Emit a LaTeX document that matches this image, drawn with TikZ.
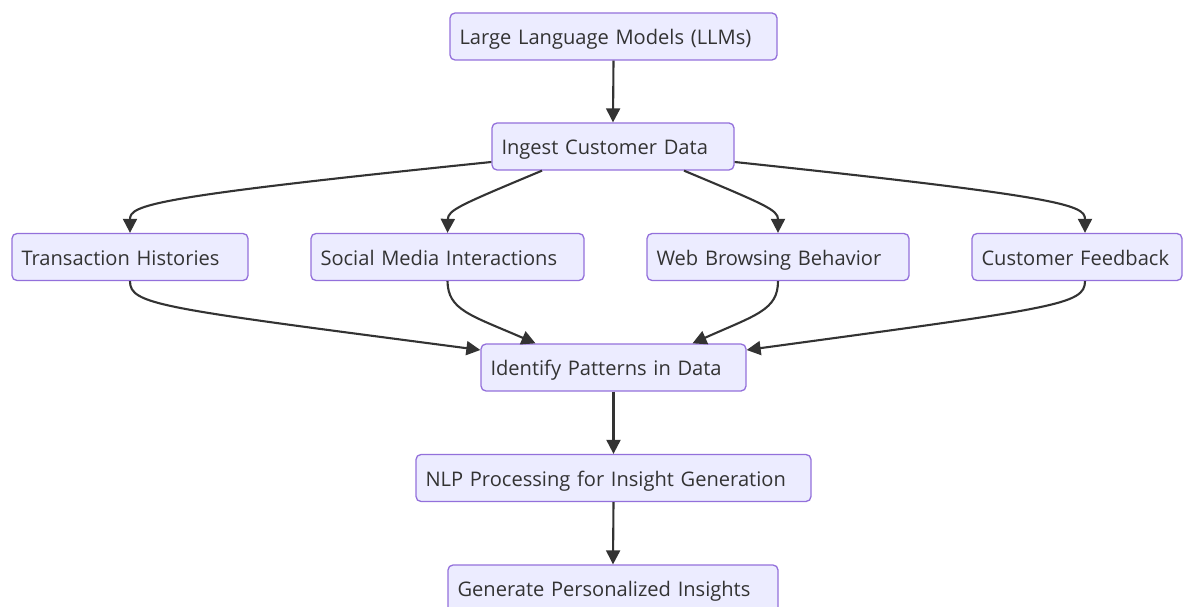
\documentclass[tikz,border=0pt]{standalone}
\usepackage{fontspec}
\setmainfont{Open Sans}
\usetikzlibrary{arrows.meta,calc}
\definecolor{boxfill}{HTML}{ECECFF}
\definecolor{boxline}{HTML}{9370DB}
\definecolor{ink}{HTML}{333333}
\tikzset{
  box/.style={draw=boxline, fill=boxfill, line width=1.3pt, rounded corners=5pt,
    minimum height=47pt, inner xsep=9.5pt, inner ysep=0pt, align=left,
    text height=18pt, text depth=2pt,
    text=ink, font=\fontsize{20.1}{24}\selectfont, anchor=center},
  conn/.style={draw=ink, line width=2.1pt, -{Triangle[length=14pt,width=14pt]}},
}
\begin{document}
\begin{tikzpicture}[x=1pt,y=-1pt]
\useasboundingbox (0,0) rectangle (1184,607);
\node[box, text width=308pt] (llm) at (613.5,36.5) {Large Language Models (LLMs)};
\node[box, text width=223pt] (ingest) at (613,146.5) {Ingest Customer Data};
\node[box, text width=217pt] (trans) at (130,257) {Transaction Histories};
\node[box, text width=254pt] (social) at (447.5,257) {Social Media Interactions};
\node[box, text width=243pt] (web) at (778,257) {Web Browsing Behavior};
\node[box, text width=191pt] (fb) at (1077,257) {Customer Feedback};
\node[box, text width=246pt] (ident) at (613.5,367.5) {Identify Patterns in Data};
\node[box, text width=376pt] (nlp) at (613.5,478) {NLP Processing for Insight Generation};
\node[box, text width=311pt] (gen) at (613,588.5) {Generate Personalized Insights};

\draw[conn] (llm.south) -- (ingest.north);
\draw[conn] ($(ingest.west)+(0,15.5)$) .. controls (150,197) and (130,205) .. (trans.north);
\draw[conn] ($(ingest.south)+(-71,0)$) .. controls (460,205) and (448,210) .. (social.north);
\draw[conn] ($(ingest.south)+(71,0)$) .. controls (766,205) and (778,210) .. (web.north);
\draw[conn] ($(ingest.east)+(0,15.5)$) .. controls (1065,197) and (1085,205) .. ($(fb.north)+(8,0)$);

\draw[conn] (trans.south) .. controls (130,305) and (160,308) .. ($(ident.west)+(0,-17.5)$);
\draw[conn] (social.south) .. controls (448,310) and (470,315) .. ($(ident.north)+(-78,0)$);
\draw[conn] (web.south) .. controls (778,310) and (756,315) .. ($(ident.north)+(79,0)$);
\draw[conn] ($(fb.south)+(8,0)$) .. controls (1085,305) and (1055,308) .. ($(ident.east)+(0,-17.5)$);

\draw[conn] (ident.south) -- (nlp.north);
\draw[conn] (nlp.south) -- (gen.north);
\end{tikzpicture}
\end{document}
